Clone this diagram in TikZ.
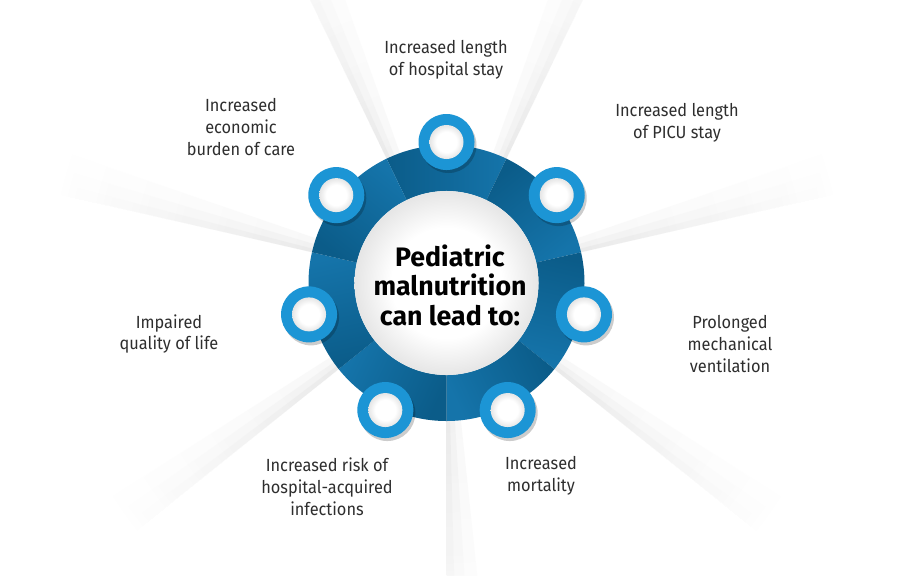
\documentclass[tikz,border=0pt]{standalone}
\usepackage{fontspec}
\newfontfamily\lblfont[FakeStretch=0.93]{Fira Sans}
\newfontfamily\hubfont{Fira Sans}
\usetikzlibrary{calc}
\definecolor{ringdark}{HTML}{0B5C89}
\definecolor{ringlight}{HTML}{1574AA}
\definecolor{dotblue}{HTML}{1C95D5}
\definecolor{raygrey}{HTML}{C8C8C8}
\definecolor{txt}{HTML}{2E2E2E}
\pgfdeclareradialshading{rayshade}{\pgfpoint{0bp}{0bp}}{color(0bp)=(raygrey); color(25bp)=(white); color(50bp)=(white)}
\pgfdeclareradialshading{hubshade}{\pgfpoint{0bp}{0bp}}{color(0bp)=(white); color(15bp)=(white); color(25bp)=(black!10); color(50bp)=(black!10)}
\tikzset{
  lbl/.style={align=center, text=txt, font=\lblfont\fontsize{12.5}{15.6}\selectfont, inner sep=0pt},
  hubtext/.style={align=center, font=\hubfont\bfseries\fontsize{19}{21}\selectfont, inner sep=0pt},
  hub/.style={circle, shading=hubshade, minimum size=4.6cm, inner sep=0pt},
  dot/.style={circle, fill=dotblue, minimum size=1.4cm, inner sep=0pt},
  dotcore/.style={circle, shading=hubshade, minimum size=0.85cm, inner sep=0pt}
}

\begin{document}
\begin{tikzpicture}[x=0.025cm, y=0.025cm]
\useasboundingbox[fill=white] (0,0) rectangle (898,-575);

\begin{scope}[shift={(446.5,-283)}]
% light rays behind the ring
\foreach \t/\s in {115.7/-1, 64.3/1, 12.9/1, -38.6/1, -90/1, -141.4/-1, 167.1/-1}
  \foreach \w/\o in {6/.18, 3.5/.22, 1.5/.3} {
    \begin{scope}
      \clip (0,0) -- (\t:420) -- (\t+\s*\w:420) -- cycle;
      \shade[shading=rayshade, opacity=\o] (0,0) circle[radius=400];
    \end{scope}
  }

% ring segments
\foreach \i in {0,...,6} {
  \pgfmathsetmacro\a{90-51.4286*\i}
  \shade[top color=ringdark, bottom color=ringlight, shading angle=\a]
    (\a+25.714:92) -- (\a+25.714:138) arc[start angle=\a+25.714, end angle=\a-25.714, radius=138]
    -- (\a-25.714:92) arc[start angle=\a-25.714, end angle=\a+25.714, radius=92] -- cycle;
}

\node[hub] (hub) at (0,0) {};

% small rings on the outer edge
\foreach \i in {0,...,6} {
  \pgfmathsetmacro\a{90-51.4286*\i}
  \fill[black, opacity=.2] ([shift={(2,-3)}]\a:141) circle[radius=28];
  \node[dot] (d\i) at (\a:141) {};
  \node[dotcore] (c\i) at (d\i) {};
}
\end{scope}

\node[hubtext] (title) at (450,-285) {Pediatric\\malnutrition\\can lead to:};

\node[lbl] (stay) at (446,-60) {Increased length\\of hospital stay};
\node[lbl] (picu) at (677,-123) {Increased length\\of PICU stay};
\node[lbl] (vent) at (730,-344) {Prolonged\\mechanical\\ventilation};
\node[lbl] (mort) at (541,-476) {Increased\\mortality};
\node[lbl] (infect) at (327,-487) {Increased risk of\\hospital-acquired\\infections};
\node[lbl] (qol) at (169,-334) {Impaired\\quality of life};
\node[lbl] (cost) at (241,-127) {Increased\\economic\\burden of care};
\end{tikzpicture}
\end{document}
